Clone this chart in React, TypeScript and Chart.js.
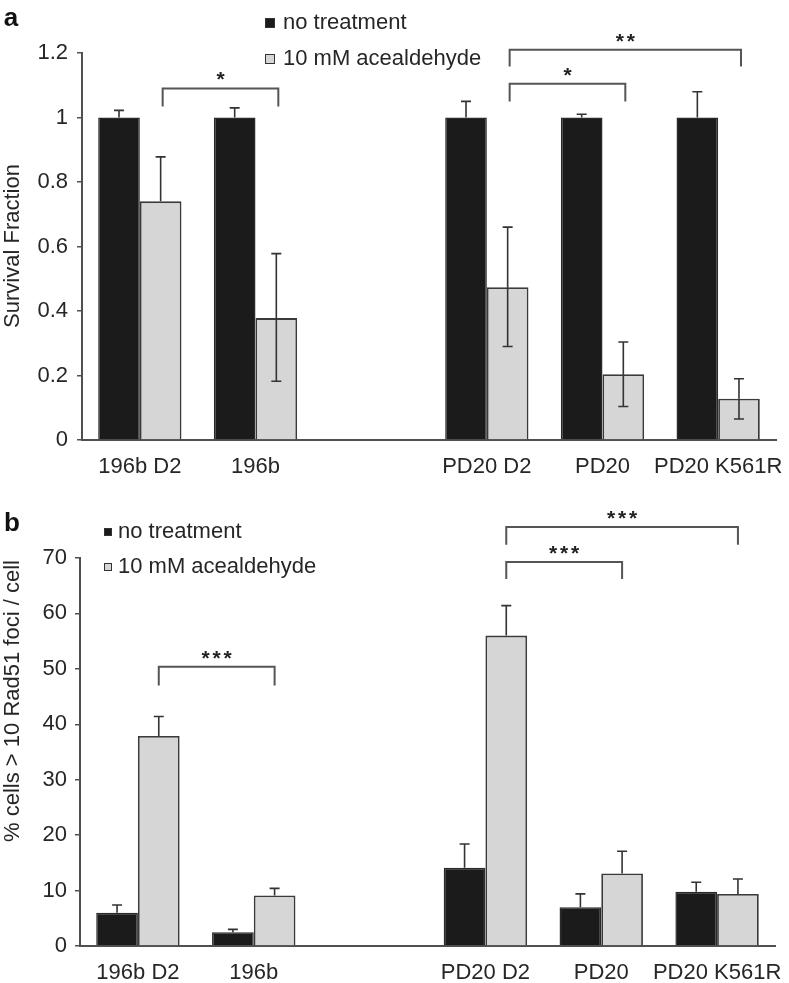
import React, { useEffect, useRef } from "react";
import { Chart, registerables } from "chart.js";

Chart.register(...registerables);

const FONT = "'Liberation Sans', Arial, Helvetica, sans-serif";
const TEXT = "#262626";
const AXIS = "#505050";
const BLACK = "#1b1b1b";
const GRAY = "#d6d6d6";
const EDGE = "#3a3a3a";

// ---------- shared ----------
const categories = ["196b D2", "196b", "", "PD20 D2", "PD20", "PD20 K561R"];
const seriesLabels = ["no treatment", "10 mM acealdehyde"];

// ---------- panel a : survival fraction ----------
const survivalControl = [1, 1, null, 1, 1, 1];
const survivalControlErrUp = [0.022, 0.03, null, 0.05, 0.01, 0.08];
const survivalAcet = [0.74, 0.378, null, 0.474, 0.204, 0.128];
const survivalAcetErrUp = [0.138, 0.2, null, 0.186, 0.1, 0.062];
const survivalAcetErrDown = [0, 0.196, null, 0.184, 0.1, 0.063];
const survivalTicks = [0, 0.2, 0.4, 0.6, 0.8, 1, 1.2];
const survivalTickLabels = ["0", "0.2", "0.4", "0.6", "0.8", "1", "1.2"];
const survivalTitle = "Survival Fraction";
// [from category, to category, bracket level, tip level, label]
const survivalBrackets: [number, number, number, number, string][] = [
  [0, 1, 1.09, 1.034, "*"],
  [3, 4, 1.105, 1.05, "*"],
  [3, 5, 1.21, 1.158, "**"],
];

// ---------- panel b : Rad51 foci ----------
const rad51Control = [6, 2.5, null, 14.1, 7, 9.8];
const rad51ControlErrUp = [1.4, 0.5, null, 4.3, 2.4, 1.7];
const rad51Acet = [37.9, 9.1, null, 56, 13.1, 9.4];
const rad51AcetErrUp = [3.5, 1.3, null, 5.4, 4.0, 2.7];
const rad51Ticks = [0, 10, 20, 30, 40, 50, 60, 70];
const rad51TickLabels = ["0", "10", "20", "30", "40", "50", "60", "70"];
const rad51Title = "% cells > 10 Rad51 foci / cell";
const rad51Brackets: [number, number, number, number, string][] = [
  [0, 1, 50.4, 47, "***"],
  [3, 4, 69.3, 66.2, "***"],
  [3, 5, 75.6, 72.4, "***"],
];

const annotPlugin = {
  id: "annot",
  afterDatasetsDraw(chart: any) {
    const ctx = chart.ctx;
    const ys = chart.scales.y;
    ctx.save();
    ctx.strokeStyle = "#333";
    ctx.lineWidth = 1.6;
    chart.data.datasets.forEach((ds: any, di: number) => {
      const meta = chart.getDatasetMeta(di);
      meta.data.forEach((bar: any, i: number) => {
        const v = ds.data[i];
        if (v == null) return;
        const up = (ds.errUp && ds.errUp[i]) || 0;
        const dn = (ds.errDown && ds.errDown[i]) || 0;
        const x = bar.x;
        const yv = ys.getPixelForValue(v);
        const cap = 5;
        if (up > 0) {
          const yt = ys.getPixelForValue(v + up);
          ctx.beginPath();
          ctx.moveTo(x, yv);
          ctx.lineTo(x, yt);
          ctx.moveTo(x - cap, yt);
          ctx.lineTo(x + cap, yt);
          ctx.stroke();
        }
        if (dn > 0) {
          const yb = ys.getPixelForValue(v - dn);
          ctx.beginPath();
          ctx.moveTo(x, yv);
          ctx.lineTo(x, yb);
          ctx.moveTo(x - cap, yb);
          ctx.lineTo(x + cap, yb);
          ctx.stroke();
        }
      });
    });
    ctx.restore();
  },
  afterDraw(chart: any, _args: any, opts: any) {
    const ctx = chart.ctx;
    const ys = chart.scales.y;
    const grayMeta = chart.getDatasetMeta(1);
    ctx.save();
    // brackets
    ctx.strokeStyle = "#555";
    ctx.lineWidth = 2;
    ctx.fillStyle = "#222";
    (opts.brackets || []).forEach((b: any) => {
      const [from, to, level, tip, label] = b;
      const x1 = grayMeta.data[from].x + (opts.bracketShift || 0);
      const x2 = grayMeta.data[to].x + (opts.bracketShift || 0);
      const yl = ys.getPixelForValue(level);
      const yt = ys.getPixelForValue(tip);
      ctx.beginPath();
      ctx.moveTo(x1, yt);
      ctx.lineTo(x1, yl);
      ctx.lineTo(x2, yl);
      ctx.lineTo(x2, yt);
      ctx.stroke();
      ctx.font = `bold 21px ${FONT}`;
      ctx.textAlign = "center";
      ctx.textBaseline = "alphabetic";
      const n = label.length;
      const step = 11;
      const cx = (x1 + x2) / 2;
      for (let k = 0; k < n; k++) {
        ctx.fillText("*", cx + (k - (n - 1) / 2) * step, yl - 2);
      }
    });
    // legend
    const lg = opts.legend;
    ctx.font = `22px ${FONT}`;
    ctx.textAlign = "left";
    ctx.textBaseline = "middle";
    chart.data.datasets.forEach((ds: any, i: number) => {
      const cy = lg.y + i * lg.gap;
      ctx.fillStyle = ds.backgroundColor;
      ctx.fillRect(lg.x, cy - lg.box / 2, lg.box, lg.box);
      ctx.strokeStyle = "#333";
      ctx.lineWidth = 1;
      ctx.strokeRect(lg.x + 0.5, cy - lg.box / 2 + 0.5, lg.box - 1, lg.box - 1);
      ctx.fillStyle = TEXT;
      ctx.fillText(ds.label, lg.textX, cy);
    });
    // y title (rotated)
    ctx.save();
    ctx.translate(opts.titleX, opts.titleY);
    ctx.rotate(-Math.PI / 2);
    ctx.font = `22px ${FONT}`;
    ctx.textAlign = "center";
    ctx.textBaseline = "alphabetic";
    ctx.fillStyle = TEXT;
    ctx.fillText(opts.title, 0, 0);
    ctx.restore();
    // panel letter
    ctx.font = `bold 26px ${FONT}`;
    ctx.fillStyle = "#111";
    ctx.textAlign = "center";
    ctx.textBaseline = "middle";
    ctx.fillText(opts.letter, opts.letterX, opts.letterY);
    ctx.restore();
  },
};

function makeConfig(p: any) {
  return {
    type: "bar",
    data: {
      labels: categories,
      datasets: [
        {
          label: seriesLabels[0],
          data: p.control,
          errUp: p.controlErrUp,
          backgroundColor: BLACK,
          borderColor: "#2a2a2a",
          borderWidth: 1.5,
        },
        {
          label: seriesLabels[1],
          data: p.acet,
          errUp: p.acetErrUp,
          errDown: p.acetErrDown,
          backgroundColor: GRAY,
          borderColor: EDGE,
          borderWidth: 1.8,
        },
      ],
    },
    options: {
      responsive: false,
      animation: false,
      devicePixelRatio: 1,
      datasets: { bar: { categoryPercentage: 0.72, barPercentage: 1.0 } },
      layout: { padding: { top: p.top, right: p.right, left: 0, bottom: 0 } },
      plugins: {
        legend: { display: false },
        tooltip: { enabled: false },
        annot: p.annot,
      },
      scales: {
        x: {
          offset: true,
          grid: { display: false, drawTicks: false },
          border: { display: true, color: AXIS, width: 2 },
          ticks: {
            autoSkip: false,
            maxRotation: 0,
            minRotation: 0,
            padding: 14,
            color: TEXT,
            font: { family: FONT, size: 22 },
          },
          afterFit(s: any) {
            s.height = p.xHeight;
            s.paddingLeft = 0;
            s.paddingRight = 0;
          },
        },
        y: {
          min: 0,
          max: p.max,
          grid: {
            drawOnChartArea: false,
            drawTicks: true,
            tickLength: 5,
            color: AXIS,
            lineWidth: 1.5,
          },
          border: { display: true, color: AXIS, width: 2 },
          ticks: {
            padding: p.tickPad,
            color: TEXT,
            font: { family: FONT, size: 22 },
            callback: (_v: any, i: number) => p.tickLabels[i],
          },
          afterBuildTicks(s: any) {
            s.ticks = p.ticks.map((v: number) => ({ value: v }));
          },
          afterFit(s: any) {
            s.width = p.left;
            s.paddingTop = 0;
            s.paddingBottom = 0;
          },
        },
      },
    },
    plugins: [annotPlugin],
  };
}

function Panel(props: { cfg: any; width: number; height: number; top: number }) {
  const ref = useRef<HTMLCanvasElement | null>(null);
  useEffect(() => {
    if (!ref.current) return;
    const chart = new Chart(ref.current, props.cfg as any);
    return () => chart.destroy();
  }, []);
  return (
    <canvas
      ref={ref}
      width={props.width}
      height={props.height}
      style={{ position: "absolute", left: 0, top: props.top, width: props.width, height: props.height }}
    />
  );
}

const cfgA = makeConfig({
  control: survivalControl,
  controlErrUp: survivalControlErrUp,
  acet: survivalAcet,
  acetErrUp: survivalAcetErrUp,
  acetErrDown: survivalAcetErrDown,
  ticks: survivalTicks,
  tickLabels: survivalTickLabels,
  max: 1.2,
  top: 53,
  right: 13,
  left: 82,
  xHeight: 45,
  tickPad: 9,
  annot: {
    brackets: survivalBrackets,
    bracketShift: 2,
    legend: { x: 265, y: 23, gap: 36, box: 10, textX: 283 },
    title: survivalTitle,
    titleX: 19,
    titleY: 246,
    letter: "a",
    letterX: 11,
    letterY: 19,
  },
});

const cfgB = makeConfig({
  control: rad51Control,
  controlErrUp: rad51ControlErrUp,
  acet: rad51Acet,
  acetErrUp: rad51AcetErrUp,
  acetErrDown: null,
  ticks: rad51Ticks,
  tickLabels: rad51TickLabels,
  max: 70,
  top: 73,
  right: 14,
  left: 80,
  xHeight: 37,
  tickPad: 8,
  annot: {
    brackets: rad51Brackets,
    bracketShift: 0,
    legend: { x: 104, y: 47, gap: 35, box: 8, textX: 118 },
    title: rad51Title,
    titleX: 19,
    titleY: 216,
    letter: "b",
    letterX: 12,
    letterY: 39,
  },
});

export default function App() {
  useEffect(() => {
    document.body.style.margin = "0";
  }, []);
  return (
    <div style={{ position: "absolute", left: 0, top: 0, width: 789, height: 983, background: "#fff" }}>
      <Panel cfg={cfgA} width={789} height={485} top={0} />
      <Panel cfg={cfgB} width={789} height={498} top={485} />
    </div>
  );
}
